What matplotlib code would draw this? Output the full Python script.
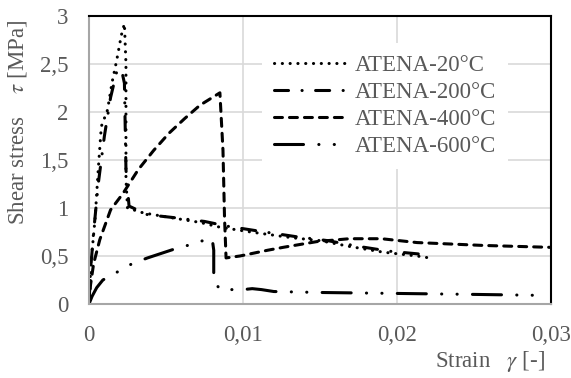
import matplotlib
matplotlib.use('Agg')
import matplotlib.pyplot as plt

plt.rcParams['font.family'] = ['Liberation Serif', 'DejaVu Serif']
plt.rcParams['mathtext.fontset'] = 'stix'

# data
x_20 = [0, 0.0001, 0.0002, 0.0004, 0.0006, 0.0008, 0.0012, 0.0015, 0.0018, 0.0021,
        0.0023, 0.0024, 0.0024, 0.0025, 0.0035, 0.0053, 0.0072, 0.0085, 0.0105,
        0.0132, 0.0150, 0.0169, 0.0191, 0.0213, 0.0221]
y_20 = [0, 0.3, 0.55, 0.9, 1.4, 1.85, 2.02, 2.31, 2.54, 2.8,
        2.92, 2.5, 1.3, 1.0, 0.95, 0.9, 0.85, 0.8, 0.75,
        0.69, 0.66, 0.6, 0.54, 0.5, 0.48]

x_200 = [0, 0.0001, 0.0003, 0.0006, 0.0010, 0.0014, 0.0018, 0.0021, 0.0023,
         0.0024, 0.0026, 0.0038, 0.0055, 0.0075, 0.0090, 0.0110, 0.0135,
         0.0155, 0.0175, 0.0195, 0.0215, 0.0222]
y_200 = [0, 0.35, 0.75, 1.25, 1.75, 2.15, 2.42, 2.45, 2.3,
         1.4, 1.02, 0.93, 0.9, 0.86, 0.81, 0.76, 0.7,
         0.66, 0.6, 0.55, 0.52, 0.52]

x_400 = [0, 0.0001, 0.0003, 0.0007, 0.0014, 0.0022, 0.0032, 0.0042, 0.0052,
         0.0062, 0.0072, 0.0085, 0.0087, 0.0088, 0.0089, 0.0098, 0.0116,
         0.0126, 0.0148, 0.0169, 0.0190, 0.0213, 0.0256, 0.0300]
y_400 = [0, 0.2, 0.42, 0.67, 0.98, 1.15, 1.4, 1.6, 1.78,
         1.93, 2.07, 2.2, 1.6, 0.9, 0.48, 0.5, 0.56,
         0.59, 0.65, 0.68, 0.68, 0.64, 0.61, 0.59]

x_600 = [0, 0.0002, 0.0005, 0.0009, 0.0018, 0.0028, 0.0038, 0.0055, 0.0064,
         0.0074, 0.0080, 0.0081, 0.0081, 0.0085, 0.0100, 0.0106, 0.0112, 0.0120,
         0.0150, 0.0200, 0.0250, 0.0293]
y_600 = [0, 0.08, 0.17, 0.25, 0.33, 0.42, 0.48, 0.57, 0.61,
         0.66, 0.68, 0.56, 0.25, 0.15, 0.15, 0.16, 0.15, 0.13,
         0.12, 0.11, 0.1, 0.09]

labels = ['ATENA-20\u00b0C', 'ATENA-200\u00b0C', 'ATENA-400\u00b0C', 'ATENA-600\u00b0C']
y_ticks = [0, 0.5, 1, 1.5, 2, 2.5, 3]
y_ticklabels = ['0', '0,5', '1', '1,5', '2', '2,5', '3']
x_ticks = [0, 0.01, 0.02, 0.03]
x_ticklabels = ['0', '0,01', '0,02', '0,03']

grey = '#595959'
fs = 16.5

fig = plt.figure(figsize=(5.71, 3.78), dpi=100)
ax = fig.add_axes([89 / 571, 1 - 304 / 378, 462 / 571, 288 / 378])

lw = 2.2
ax.plot(x_20, y_20, color='black', lw=lw, linestyle=(0, (0.05, 2.5)),
        dash_capstyle='round', label=labels[0])
ax.plot(x_200, y_200, color='black', lw=lw, linestyle=(0, (4.6, 4.4, 0.05, 4.4)),
        dash_capstyle='round', label=labels[1])
ax.plot(x_400, y_400, color='black', lw=lw, linestyle=(0, (2.6, 2.3)),
        dash_capstyle='round', label=labels[2])
ax.plot(x_600, y_600, color='black', lw=lw,
        linestyle=(0, (9.5, 5, 0.05, 5, 0.05, 5)),
        dash_capstyle='round', label=labels[3])

ax.set_xlim(0, 0.03)
ax.set_ylim(0, 3)
ax.set_xticks(x_ticks)
ax.set_xticklabels(x_ticklabels)
ax.set_yticks(y_ticks)
ax.set_yticklabels(y_ticklabels)
ax.tick_params(length=0, labelsize=fs, labelcolor=grey)
ax.tick_params(axis='x', pad=15)
ax.tick_params(axis='y', pad=15)
ax.grid(True, color='#d9d9d9', lw=1.2)
ax.set_axisbelow(True)

for side in ['top', 'right']:
    ax.spines[side].set_color('black')
    ax.spines[side].set_linewidth(1.5)
for side in ['left', 'bottom']:
    ax.spines[side].set_color('#a6a6a6')
    ax.spines[side].set_linewidth(1.5)

leg = ax.legend(loc='upper left', bbox_to_anchor=(0.35, 0.945), frameon=True,
                fontsize=fs, handlelength=3.2, handletextpad=0.35,
                labelspacing=0.27, borderpad=0.5, fancybox=False)
leg.get_frame().set_edgecolor('none')
leg.get_frame().set_facecolor('white')
leg.get_frame().set_alpha(1)
for t in leg.get_texts():
    t.set_color(grey)

fig.text(18 / 571, 1 - 122 / 378, r'Shear stress    $\tau$ [MPa]', rotation=90,
         ha='center', va='center', fontsize=fs, color=grey)
fig.text(545 / 571, 1 - 362 / 378, r'Strain   $\gamma$ [-]', ha='right',
         va='center', fontsize=fs, color=grey)

fig.savefig('out.png', dpi=100)
